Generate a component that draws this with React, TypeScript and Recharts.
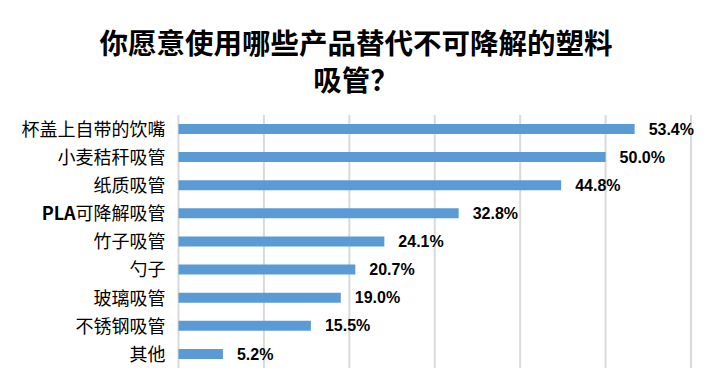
import React from 'react';
import { BarChart, Bar, XAxis, YAxis, CartesianGrid, LabelList } from 'recharts';

const categories = ['杯盖上自带的饮嘴', '小麦秸秆吸管', '纸质吸管', 'PLA可降解吸管', '竹子吸管', '勺子', '玻璃吸管', '不锈钢吸管', '其他'];
const shares = [53.4, 50.0, 44.8, 32.8, 24.1, 20.7, 19.0, 15.5, 5.2];
const xTicks = [0, 10, 20, 30, 40, 50, 60];
const titleLines = ['你愿意使用哪些产品替代不可降解的塑料', '吸管？'];

const data = categories.map((name, i) => ({ name, value: shares[i] }));

const CJK = '"Noto Sans CJK SC", "Noto Sans", sans-serif';

const CategoryTick = ({ x, y, payload }: any) => {
  const label: string = payload.value;
  const latin = label.match(/^[A-Za-z]+/);
  return (
    <text x={x} y={y} dy="0.38em" textAnchor="end" fontFamily={CJK} fontSize={18} fill="#000">
      {latin ? (
        <>
          <tspan fontWeight="bold">{latin[0]}</tspan>
          <tspan>{label.slice(latin[0].length)}</tspan>
        </>
      ) : (
        label
      )}
    </text>
  );
};

const App: React.FC = () => {
  return (
    <div style={{ position: 'relative', width: 714, height: 391, background: '#fff' }}>
      <style>{'body{margin:0}'}</style>
      <svg width={714} height={110} style={{ position: 'absolute', left: 0, top: 0 }}>
        {titleLines.map((t, i) => (
          <text
            key={i}
            x={356}
            y={54 + i * 37}
            textAnchor="middle"
            fontFamily={CJK}
            fontWeight="bold"
            fontSize={28.5}
            fill="#000"
          >
            {t}
          </text>
        ))}
      </svg>
      <div style={{ position: 'absolute', left: 0, top: 0 }}>
        <BarChart
          width={714}
          height={391}
          data={data}
          layout="vertical"
          margin={{ top: 115, right: 23, bottom: 23, left: 0 }}
        >
          <CartesianGrid horizontal={false} stroke="#d9d9d9" strokeWidth={2} />
          <XAxis type="number" domain={[0, 60]} ticks={xTicks} hide />
          <YAxis
            type="category"
            dataKey="name"
            width={178.5}
            axisLine={false}
            tickLine={false}
            tickSize={0}
            tickMargin={13}
            interval={0}
            tick={<CategoryTick />}
          />
          <Bar dataKey="value" fill="#5b9bd5" barSize={10} isAnimationActive={false}>
            <LabelList
              dataKey="value"
              position="right"
              offset={14}
              formatter={(v: any) => `${Number(v).toFixed(1)}%`}
              fill="#000"
              fontWeight="bold"
              fontSize={16}
              fontFamily='"Liberation Sans", Arial, sans-serif'
            />
          </Bar>
        </BarChart>
      </div>
    </div>
  );
};

export default App;
